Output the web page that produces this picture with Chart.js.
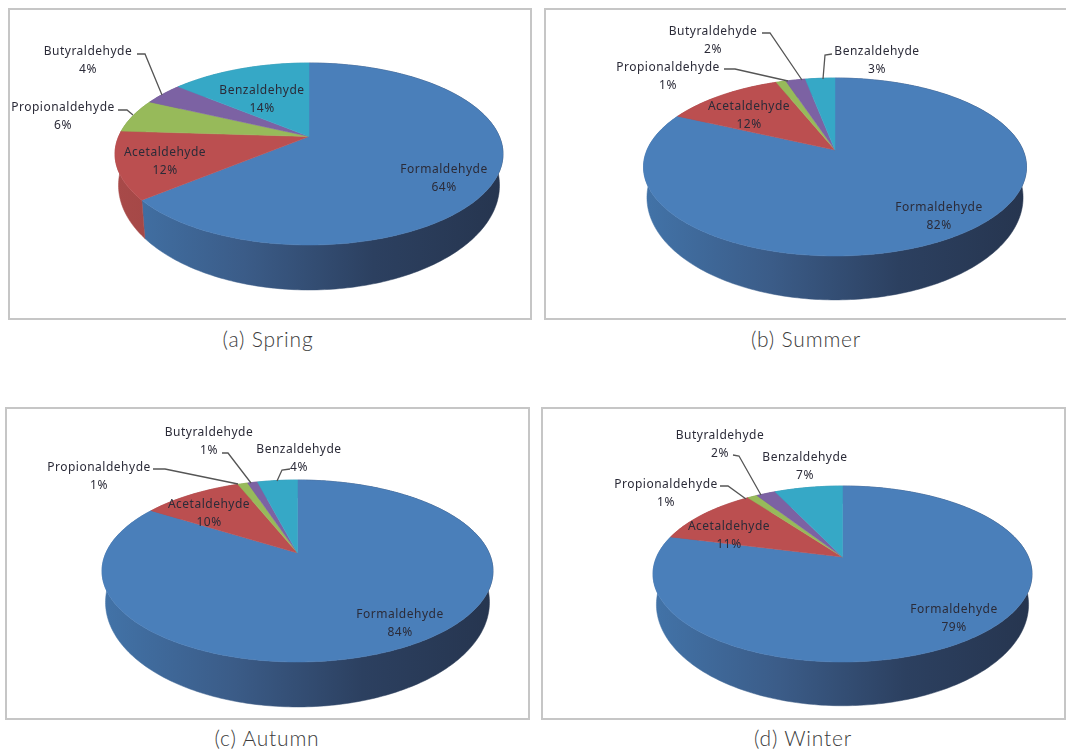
<!DOCTYPE html>
<html>
<head>
<meta charset="utf-8">
<title>Aldehyde shares by season</title>
<script src="https://cdn.jsdelivr.net/npm/chart.js@4"></script>
<style>
  html, body { margin: 0; padding: 0; background: #fff; overflow: hidden; }
  body { width: 1066px; height: 751px; position: relative; }
  canvas { position: absolute; }
  .frame { position: absolute; border: 2px solid #c6c6c6; box-sizing: border-box; pointer-events: none; }
  .caption {
    position: absolute; transform: translateX(-50%); white-space: nowrap;
    font: 300 21px "Lato", "Open Sans", sans-serif; letter-spacing: 0.8px; color: #3c3c3c;
  }
</style>
</head>
<body>
<script>
// Data
const categories = ["Formaldehyde", "Acetaldehyde", "Propionaldehyde", "Butyraldehyde", "Benzaldehyde"];
const springValues = [64, 12, 6, 4, 14];
const summerValues = [82, 12, 1, 2, 3];
const autumnValues = [84, 10, 1, 1, 4];
const winterValues = [79, 11, 1, 2, 7];

// Slice colours, and the side wall shades from left to right
const faceColors = ["#4a7fba", "#bb4f50", "#97ba5a", "#7c62a3", "#36a8c6"];
const wallColors = [
  ["#4273a8", "#3b5c88", "#2c4060", "#26354f"],
  ["#a84a49", "#9c4240", "#7c3433", "#6a2c2b"],
  ["#7d9a4a", "#7d9a4a", "#7d9a4a", "#7d9a4a"],
  ["#65508a", "#65508a", "#65508a", "#65508a"],
  ["#2c8aa3", "#2c8aa3", "#2c8aa3", "#2c8aa3"],
];

// Layout of each panel, in page pixels. spots = centre of each label, leaders = callout lines
const panels = [
  {
    caption: "(a) Spring", values: springValues, box: [8, 8, 524, 312], captionAt: [268, 326],
    apex: [309, 136.5], back: 73.5, front: 108.5, halfWidth: 194, depth: 28.7,
    spots: [[444, 168], [165, 151], [63, 106], [88, 50], [262, 89]],
    leaders: [[[118, 110], [127, 110], [133, 115]], [[137, 54], [145, 54], [162, 95]]],
  },
  {
    caption: "(b) Summer", values: summerValues, box: [544, 8, 530, 312], captionAt: [806, 326],
    apex: [835, 150], back: 72, front: 106, halfWidth: 191.5, depth: 28,
    spots: [[939, 206], [749, 105], [668, 66], [713, 30], [877, 50]],
    leaders: [[[724, 69], [735, 69], [788, 81]], [[762, 33], [770, 33], [802, 80]], [[832, 54], [825, 55], [823, 79]]],
  },
  {
    caption: "(c) Autumn", values: autumnValues, box: [5, 407, 525, 313], captionAt: [267, 725],
    apex: [297.5, 553], back: 73, front: 109, halfWidth: 195.5, depth: 28.6,
    spots: [[400, 613], [209, 503], [99, 466], [209, 431], [299, 448]],
    leaders: [[[153, 469], [165, 469], [238, 484]], [[222, 453], [228, 453], [251, 483]], [[290, 469], [282, 470], [277, 481]]],
  },
  {
    caption: "(d) Winter", values: winterValues, box: [541, 407, 525, 313], captionAt: [803, 725],
    apex: [842.5, 557], back: 71, front: 105, halfWidth: 189.5, depth: 28,
    spots: [[954, 608], [729, 525], [666, 483], [720, 434], [805, 456]],
    leaders: [[[720, 486], [728, 486], [746, 499]], [[733, 455], [739, 456], [761, 495]]],
  },
];

// Bottom ring of the wall: a bit narrower and rounder than the top face
const RING_X = 0.982;
const RING_Y = 1.15;

// Tilted disc: maps a slice angle onto the page with a little perspective
function makeProjection(panel) {
  const k = (panel.front - panel.back) / (panel.front + panel.back);
  const ry = panel.front * (1 - k);
  const rx = panel.halfWidth * Math.sqrt(1 - k * k);
  const [cx, cy] = panel.apex;
  return (angle, sx = 1, sy = 1, drop = 0) => {
    const w = 1 - k * Math.sin(angle);
    return [cx + (sx * rx * Math.cos(angle)) / w, cy + (sy * ry * Math.sin(angle)) / w + drop];
  };
}

function traceEdge(ctx, project, from, to, sx, sy, drop) {
  const steps = Math.max(2, Math.ceil(Math.abs(to - from) * 60));
  for (let i = 0; i <= steps; i++) {
    const [x, y] = project(from + ((to - from) * i) / steps, sx, sy, drop);
    ctx.lineTo(x, y);
  }
}

// Draws the slices as a 3D disc from the angles the pie controller worked out
const discPlugin = {
  id: "disc",
  beforeDatasetDraw(chart) {
    const { ctx } = chart;
    const panel = chart.options.plugins.disc.panel;
    const project = makeProjection(panel);
    const arcs = chart.getDatasetMeta(0).data;

    ctx.save();
    ctx.translate(-panel.box[0], -panel.box[1]);

    // side walls first
    const left = panel.apex[0] - panel.halfWidth;
    arcs.forEach((arc, i) => {
      const grad = ctx.createLinearGradient(left, 0, left + panel.halfWidth * 2, 0);
      wallColors[i].forEach((c, s) => grad.addColorStop(s / (wallColors[i].length - 1), c));
      ctx.fillStyle = grad;
      ctx.strokeStyle = grad;
      ctx.lineWidth = 0.5;
      ctx.beginPath();
      traceEdge(ctx, project, arc.startAngle, arc.endAngle, 1, 1, 0);
      traceEdge(ctx, project, arc.endAngle, arc.startAngle, RING_X, RING_Y, panel.depth);
      ctx.closePath();
      ctx.fill();
      ctx.stroke();
    });

    // top face
    arcs.forEach((arc, i) => {
      ctx.fillStyle = faceColors[i];
      ctx.strokeStyle = faceColors[i];
      ctx.lineWidth = 0.5;
      ctx.beginPath();
      ctx.moveTo(panel.apex[0], panel.apex[1]);
      traceEdge(ctx, project, arc.startAngle, arc.endAngle, 1, 1, 0);
      ctx.closePath();
      ctx.fill();
      ctx.stroke();
    });

    ctx.restore();
    return false; // the flat arcs are not needed
  },
  afterDatasetsDraw(chart) {
    const { ctx } = chart;
    const panel = chart.options.plugins.disc.panel;
    ctx.save();
    ctx.translate(-panel.box[0], -panel.box[1]);

    // callout lines
    ctx.strokeStyle = "#555555";
    ctx.lineWidth = 1.3;
    panel.leaders.forEach((pts) => {
      ctx.beginPath();
      pts.forEach(([x, y], i) => (i ? ctx.lineTo(x, y) : ctx.moveTo(x, y)));
      ctx.stroke();
    });

    // name and percentage
    ctx.font = '12px "Noto Sans", sans-serif';
    ctx.letterSpacing = "0.5px";
    ctx.fillStyle = "#2b2b38";
    ctx.textAlign = "center";
    ctx.textBaseline = "middle";
    panel.spots.forEach(([x, y], i) => {
      ctx.fillText(categories[i], x, y + 1.5);
      ctx.fillText(panel.values[i] + "%", x, y + 19.5);
    });
    ctx.restore();
  },
};

panels.forEach((panel) => {
  const canvas = document.createElement("canvas");
  canvas.width = panel.box[2];
  canvas.height = panel.box[3];
  canvas.style.left = panel.box[0] + "px";
  canvas.style.top = panel.box[1] + "px";
  document.body.appendChild(canvas);

  new Chart(canvas.getContext("2d"), {
    type: "pie",
    data: {
      labels: categories,
      datasets: [{ data: panel.values, backgroundColor: faceColors }],
    },
    options: {
      responsive: false,
      maintainAspectRatio: false,
      animation: false,
      events: [],
      plugins: { legend: { display: false }, tooltip: { enabled: false }, disc: { panel } },
    },
    plugins: [discPlugin],
  });

  // panel outline
  const frame = document.createElement("div");
  frame.className = "frame";
  frame.style.left = panel.box[0] + "px";
  frame.style.top = panel.box[1] + "px";
  frame.style.width = panel.box[2] + "px";
  frame.style.height = panel.box[3] + "px";
  document.body.appendChild(frame);

  const label = document.createElement("div");
  label.className = "caption";
  label.textContent = panel.caption;
  label.style.left = panel.captionAt[0] + "px";
  label.style.top = panel.captionAt[1] + "px";
  document.body.appendChild(label);
});
</script>
</body>
</html>
